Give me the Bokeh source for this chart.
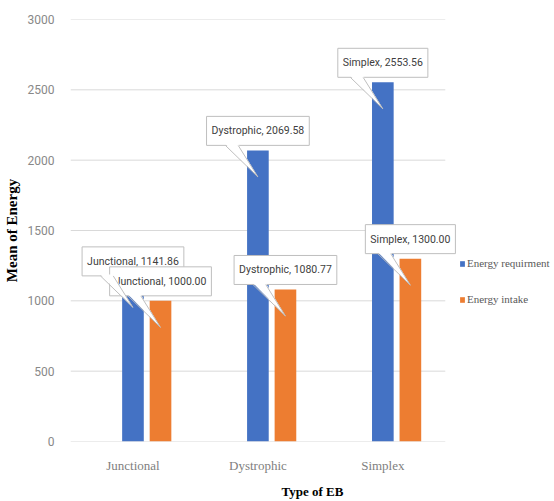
from bokeh.plotting import figure
from bokeh.models import Range1d, FixedTicker, Label, Legend, LegendItem
from bokeh.embed import file_html
from bokeh.resources import INLINE

# ---- data ----
categories = ["Junctional", "Dystrophic", "Simplex"]
energy_requirement = [1141.86, 2069.58, 2553.56]
energy_intake = [1000.00, 1080.77, 1300.00]
series_names = ["Energy requirment", "Energy intake"]
y_ticks = [0, 500, 1000, 1500, 2000, 2500, 3000]

BLUE = "#4472C4"
ORANGE = "#ED7D31"

W, H = 554, 501
BL, BR, BT, BB = 62, 0, 19, 53
PLOT_W = 381                       # width of the category area in px
inner_w = W - BL - BR
inner_h = H - BT - BB
YMAX = 3000
ncat = len(categories)
xpx = ncat / PLOT_W       # data units per px (x)
ypx = YMAX / inner_h      # data units per px (y)

p = figure(width=W, height=H, output_backend="svg", toolbar_location=None,
           x_range=Range1d(0, inner_w * xpx), y_range=Range1d(0, YMAX),
           min_border_left=BL, min_border_right=BR, min_border_top=BT, min_border_bottom=BB)
p.outline_line_color = None
p.background_fill_color = "white"
p.border_fill_color = "white"

# gridlines limited to category area
p.xgrid.grid_line_color = None
p.ygrid.grid_line_color = None
p.segment(x0=[0] * len(y_ticks), x1=[ncat] * len(y_ticks), y0=y_ticks, y1=y_ticks,
          line_color="#d9d9d9", line_width=1)

centers = [i + 0.5 for i in range(ncat)]
bar_w = 22 * xpx
off_orange = 28 * xpx
x_blue = centers
x_orange = [c + off_orange for c in centers]

r1 = p.vbar(x=x_blue, top=energy_requirement, width=bar_w, bottom=0,
            fill_color=BLUE, line_color=None)
r2 = p.vbar(x=x_orange, top=energy_intake, width=bar_w, bottom=0,
            fill_color=ORANGE, line_color=None)

# axes
p.xaxis.ticker = FixedTicker(ticks=centers)
p.xaxis.major_label_overrides = {c: n for c, n in zip(centers, categories)}
p.yaxis.ticker = FixedTicker(ticks=y_ticks)
for ax in (p.xaxis[0], p.yaxis[0]):
    ax.axis_line_color = None
    ax.major_tick_line_color = None
    ax.minor_tick_line_color = None
    ax.major_label_standoff = 10
p.xaxis.major_label_text_font = "Liberation Serif"
p.xaxis.major_label_text_font_size = "13px"
p.xaxis.major_label_text_color = "#808080"
p.yaxis.major_label_text_font = "Roboto"
p.yaxis.major_label_text_font_size = "12px"
p.yaxis.major_label_text_color = "#888888"

p.xaxis.axis_label = "Type of EB"
p.yaxis.axis_label = "Mean of Energy"
for ax in (p.xaxis[0], p.yaxis[0]):
    ax.axis_label_text_font = "Liberation Serif"
    ax.axis_label_text_font_style = "bold"
    ax.axis_label_text_color = "black"
p.xaxis.axis_label_text_font_size = "13px"
p.yaxis.axis_label_text_font_size = "15px"
p.xaxis.axis_label_standoff = 8
p.yaxis.axis_label_standoff = 5

# ---- callouts ----
def callout(cx, val, name):
    tip_y = val - 27 * ypx
    box_bottom = val + 5 * ypx
    xs = [cx - 33 * xpx, cx - 20 * xpx, cx]
    ys = [box_bottom + 1.5 * ypx, box_bottom + 1.5 * ypx, tip_y]
    lab = Label(x=cx, y=val, y_offset=5, text=f"{name}, {val:.2f}",
                text_align="center", text_baseline="bottom",
                text_font="Roboto", text_font_size="10.5px", text_color="#404040",
                background_fill_color="white", border_line_color="#bfbfbf",
                border_line_width=1, padding=(5, 8))
    p.add_layout(lab)
    p.patch(xs, ys, fill_color="white", line_color=None, level="overlay")
    p.line([xs[0], xs[2]], [ys[0] - 1.5 * ypx, ys[2]], line_color="#bfbfbf", level="overlay")
    p.line([xs[1], xs[2]], [ys[1] - 1.5 * ypx, ys[2]], line_color="#bfbfbf", level="overlay")

for cx, v, n in zip(x_blue, energy_requirement, categories):
    callout(cx, v, n)
for cx, v, n in zip(x_orange, energy_intake, categories):
    callout(cx, v, n)

legend = Legend(items=[LegendItem(label=series_names[0], renderers=[r1]),
                       LegendItem(label=series_names[1], renderers=[r2])],
                location=(389, 135), orientation="vertical",
                glyph_width=6, glyph_height=7, label_height=14, spacing=22,
                label_standoff=2, padding=0, margin=0,
                label_text_font="Liberation Serif", label_text_font_size="11px",
                label_text_color="#595959",
                background_fill_alpha=0, border_line_color=None)
p.add_layout(legend, "center")

open("out.html", "w").write(file_html(p, INLINE))
